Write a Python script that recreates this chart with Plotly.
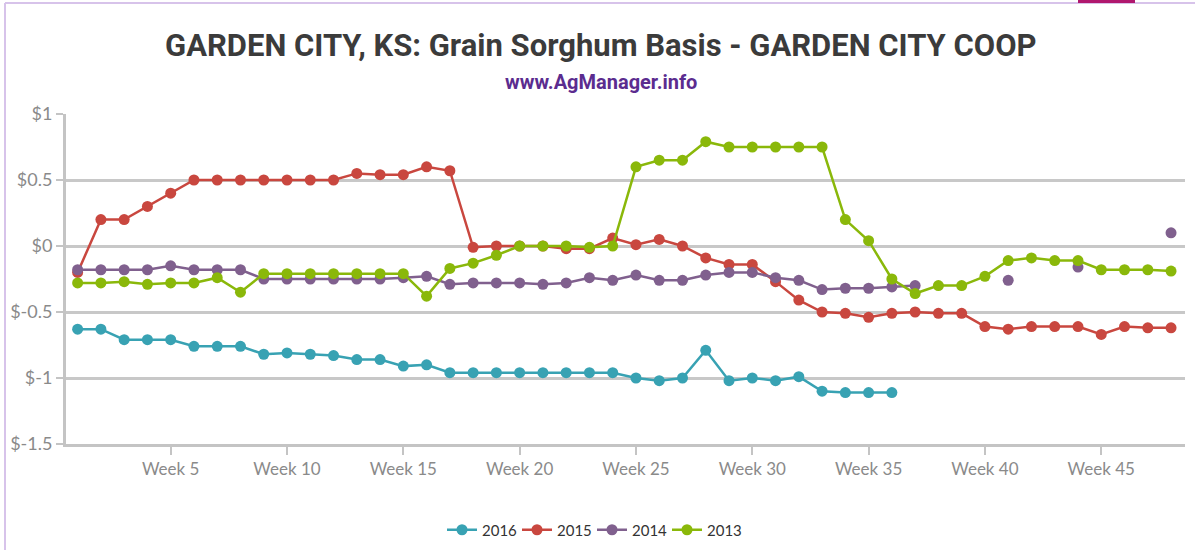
import plotly.graph_objects as go

weeks = list(range(1, 49))
tick_weeks = [5, 10, 15, 20, 25, 30, 35, 40, 45]
tick_labels = ["Week %d" % w for w in tick_weeks]
y_ticks = [1, 0.5, 0, -0.5, -1, -1.5]
y_tick_labels = ["$1", "$0.5", "$0", "$-0.5", "$-1", "$-1.5"]

s2016 = [-0.63, -0.63, -0.71, -0.71, -0.71, -0.76, -0.76, -0.76, -0.82, -0.81,
         -0.82, -0.83, -0.86, -0.86, -0.91, -0.90, -0.96, -0.96, -0.96, -0.96,
         -0.96, -0.96, -0.96, -0.96, -1.00, -1.02, -1.00, -0.79, -1.02, -1.00,
         -1.02, -0.99, -1.10, -1.11, -1.11, -1.11] + [None] * 12

s2015 = [-0.20, 0.20, 0.20, 0.30, 0.40, 0.50, 0.50, 0.50, 0.50, 0.50,
         0.50, 0.50, 0.55, 0.54, 0.54, 0.60, 0.57, -0.01, 0.00, 0.00,
         0.00, -0.02, -0.02, 0.06, 0.01, 0.05, 0.00, -0.09, -0.14, -0.14,
         -0.27, -0.41, -0.50, -0.51, -0.54, -0.51, -0.50, -0.51, -0.51, -0.61,
         -0.63, -0.61, -0.61, -0.61, -0.67, -0.61, -0.62, -0.62]

s2014 = [-0.18, -0.18, -0.18, -0.18, -0.15, -0.18, -0.18, -0.18, -0.25, -0.25,
         -0.25, -0.25, -0.25, -0.25, -0.24, -0.23, -0.29, -0.28, -0.28, -0.28,
         -0.29, -0.28, -0.24, -0.26, -0.22, -0.26, -0.26, -0.22, -0.20, -0.20,
         -0.24, -0.26, -0.33, -0.32, -0.32, -0.31, -0.30, None, None, None,
         -0.26, None, None, -0.16, None, None, None, 0.10]

s2013 = [-0.28, -0.28, -0.27, -0.29, -0.28, -0.28, -0.24, -0.35, -0.21, -0.21,
         -0.21, -0.21, -0.21, -0.21, -0.21, -0.38, -0.17, -0.13, -0.07, 0.00,
         0.00, 0.00, -0.01, 0.00, 0.60, 0.65, 0.65, 0.79, 0.75, 0.75,
         0.75, 0.75, 0.75, 0.20, 0.04, -0.25, -0.36, -0.30, -0.30, -0.23,
         -0.11, -0.09, -0.11, -0.11, -0.18, -0.18, -0.18, -0.19]

series = [("2016", s2016, "#38A2B3"), ("2015", s2015, "#C9473F"),
          ("2014", s2014, "#80608E"), ("2013", s2013, "#8AB80A")]

fig = go.Figure()
for name, vals, col in series:
    fig.add_trace(go.Scatter(
        x=weeks, y=vals, name=name, mode="lines+markers",
        line=dict(color=col, width=2.5),
        marker=dict(color=col, size=11),
        connectgaps=False))

L, R, T, B = 66, 10, 114, 106
PW, PH = 1195 - L - R, 550 - T - B

def px_x(x):
    return (x - L) / PW

def px_y(y):
    return (550 - B - y) / PH

axis_font = dict(family="Lato, 'Open Sans', sans-serif", size=18, color="#8a8a8a")
title_font = "Roboto, 'Open Sans', sans-serif"
fig.update_layout(
    width=1195, height=550,
    margin=dict(l=L, r=R, t=T, b=B, autoexpand=False),
    paper_bgcolor="white", plot_bgcolor="white",
    showlegend=True,
    legend=dict(orientation="h", x=px_x(592), xanchor="center", y=px_y(530), yanchor="middle",
                font=dict(family="Lato, 'Open Sans', sans-serif", size=15, color="#333333"),
                traceorder="normal", itemwidth=30, entrywidth=30, entrywidthmode="pixels"),
    xaxis=dict(range=[0.5, 48.6], tickvals=tick_weeks, ticktext=tick_labels,
               automargin=False,
               showgrid=False, zeroline=False, showline=True, linecolor="#c4c4c4",
               linewidth=3, ticks="outside", tickcolor="#c4c4c4", ticklen=8, tickwidth=2,
               tickfont=dict(family="Lato, 'Open Sans', sans-serif", size=17, color="#8a8a8a")),
    yaxis=dict(range=[-1.5, 1.0], tickvals=y_ticks, ticktext=y_tick_labels,
               automargin=False,
               showgrid=True, gridcolor="#c8c8c8", gridwidth=2.5, zeroline=False,
               showline=True, linecolor="#c4c4c4", linewidth=3,
               ticks="outside", tickcolor="#c4c4c4", ticklen=7, tickwidth=2,
               tickfont=axis_font),
    annotations=[
        dict(text="<b>GARDEN CITY, KS: Grain Sorghum Basis - GARDEN CITY COOP</b>",
             xref="paper", yref="paper", x=px_x(601), y=px_y(45),
             xanchor="center", yanchor="middle", showarrow=False,
             font=dict(family=title_font, size=31, color="#3b3b3b")),
        dict(text="<b>www.AgManager.info</b>",
             xref="paper", yref="paper", x=px_x(601), y=px_y(82),
             xanchor="center", yanchor="middle", showarrow=False,
             font=dict(family=title_font, size=20, color="#5B2C8F")),
    ],
    shapes=[
        dict(type="line", xref="paper", yref="paper",
             x0=px_x(5), x1=px_x(5), y0=px_y(550), y1=px_y(3),
             line=dict(color="#d7c3ea", width=2)),
        dict(type="line", xref="paper", yref="paper",
             x0=px_x(5), x1=px_x(1195), y0=px_y(3), y1=px_y(3),
             line=dict(color="#d7c3ea", width=2)),
        dict(type="rect", xref="paper", yref="paper",
             x0=px_x(1078), x1=px_x(1135), y0=px_y(3), y1=px_y(0),
             fillcolor="#B0176E", line=dict(width=0)),
    ],
)

fig.write_html("out.html", config={"displayModeBar": False},
               post_script="document.body.style.margin='0';")
